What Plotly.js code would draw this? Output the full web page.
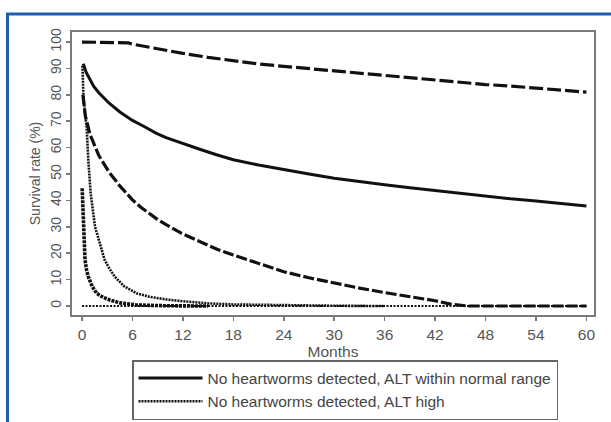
<!DOCTYPE html>
<html>
<head>
<meta charset="utf-8">
<script src="https://cdn.plot.ly/plotly-3.0.1.min.js"></script>
<style>
html,body{margin:0;padding:0;background:#fff;}
#chart{width:611px;height:422px;}
</style>
</head>
<body>
<div id="chart"></div>
<script>
// Survival curves (months, survival %)
const topMonths = [0,5,5.5,6,8,10,12,15,18,21,24,27,30,33,36,39,42,45,48,51,54,57,60];
const topValues = [100,100,99.7,99.2,98,96.8,95.7,94.2,92.8,91.7,90.8,89.9,89,88.1,87.2,86.4,85.7,84.8,83.9,83.3,82.7,81.8,81];

const normalMonths = [0.15,0.5,1,1.4,2,3.2,4.5,6,7.5,8.8,10,11.8,14,16,18,21,24,27,30,33,36,39,42,45,48,51,54,57,60];
const normalValues = [91.8,88.5,85.5,83.2,80.8,76.9,73.5,70.3,67.8,65.5,63.8,61.7,59.4,57.3,55.4,53.4,51.6,50,48.4,47.1,45.9,44.8,43.7,42.6,41.5,40.6,39.8,38.8,37.9];

const thirdMonths = [0.1,0.4,0.95,2,3.2,4.5,6,7,8.8,10,11.8,14,16,18,21,24,27,30,33,36,39,42,44,46,50,55,60];
const thirdValues = [80,72,65,57,50.8,45.5,40.2,37.4,33.2,30.8,27.6,24.3,21.6,19.3,16,13,10.7,8.6,6.8,5.1,3.5,2,0.6,0,0,0,0];

const highMonths = [0.05,0.16,0.35,0.55,0.75,1.03,1.55,2.1,2.7,3.3,3.9,5,6.5,8,10,12,15,18,24,30,36];
const highValues = [91,80.6,73,67.9,55.3,42.7,30,24,17.4,14,11.1,7.5,4.8,3.5,2.5,1.8,1.0,0.6,0.3,0.1,0];

const lowMonths = [0.02,0.16,0.36,0.55,0.75,1.2,1.75,2.5,3.3,4.5,6.5,10,15];
const lowValues = [44.6,30,17.4,13.5,11.1,7.5,4.8,3.3,2.3,1.2,0.4,0.1,0];

const zeroMonths = [0,60];
const zeroValues = [0,0];

const xTicks = [0,6,12,18,24,30,36,42,48,54,60];
const yTicks = [0,10,20,30,40,50,60,70,80,90,100];

const legendNormal = "No heartworms detected, ALT within normal range";
const legendHigh = "No heartworms detected, ALT high";

const traces = [
  {x: zeroMonths, y: zeroValues, mode:'lines', line:{color:'#111', width:2.2, dash:'2px,1.5px'}, showlegend:false},
  {x: topMonths, y: topValues, mode:'lines', line:{color:'#111', width:3.2, dash:'14px,4px'}, showlegend:false},
  {x: thirdMonths, y: thirdValues, mode:'lines', line:{color:'#111', width:3.2, dash:'11px,3px'}, showlegend:false},
  {x: lowMonths, y: lowValues, mode:'lines', line:{color:'#111', width:3.6, dash:'3px,1px'}, showlegend:false},
  {x: normalMonths, y: normalValues, mode:'lines', name: legendNormal, line:{color:'#111', width:3}},
  {x: highMonths, y: highValues, mode:'lines', name: legendHigh, line:{color:'#111', width:2.6, dash:'2px,1px'}}
];

const L = 72, R = 594, T = 32, B = 315, W = 611, H = 422;
const pw = R - L, ph = B - T;
const px = v => (v - L) / pw;
const py = v => (B - v) / ph;

const layout = {
  width: W, height: H,
  margin: {l: L, r: W - R, t: T, b: H - B, autoexpand: false},
  paper_bgcolor: '#fff', plot_bgcolor: '#fff',
  font: {family: '"Liberation Sans", Arial, sans-serif', color: '#555', size: 14},
  showlegend: true,
  xaxis: {
    range: [-1.19, 60.9], tickvals: xTicks, ticktext: xTicks.map(String),
    showline: true, mirror: true, linecolor: '#7a7a7a', linewidth: 2,
    ticks: 'outside', ticklen: 4, tickcolor: '#7a7a7a', tickwidth: 1.5,
    showgrid: false, zeroline: false,
    tickfont: {size: 15.5, color: '#555'},
    title: {text: 'Months', font: {size: 15.5, color: '#555'}, standoff: 0}
  },
  yaxis: {
    range: [-3.4, 103.8], tickvals: yTicks, ticktext: yTicks.map(String),
    showline: true, mirror: true, linecolor: '#7a7a7a', linewidth: 2,
    ticks: 'outside', ticklen: 4, tickcolor: '#7a7a7a', tickwidth: 1.5,
    showgrid: false, zeroline: false, tickangle: -90, ticklabelstandoff: -1,
    tickfont: {size: 14, color: '#555'},
    title: {text: 'Survival rate (%)', font: {size: 14, color: '#555'}, standoff: 5}
  },
  legend: {
    x: px(132), y: py(360), xanchor: 'left', yanchor: 'top',
    bordercolor: '#666', borderwidth: 1.5, bgcolor: '#fff',
    font: {size: 15.5, color: '#444'}, itemwidth: 64, tracegroupgap: 0,
    traceorder: 'normal'
  },
  shapes: [
    {type:'line', xref:'paper', yref:'paper', x0: px(6), x1: px(611), y0: py(14), y1: py(14), line:{color:'#1f5ea8', width:3}},
    {type:'line', xref:'paper', yref:'paper', x0: px(7.5), x1: px(7.5), y0: py(13), y1: py(422), line:{color:'#1f5ea8', width:3}}
  ]
};

Plotly.newPlot('chart', traces, layout, {displayModeBar: false, staticPlot: true});
</script>
</body>
</html>
